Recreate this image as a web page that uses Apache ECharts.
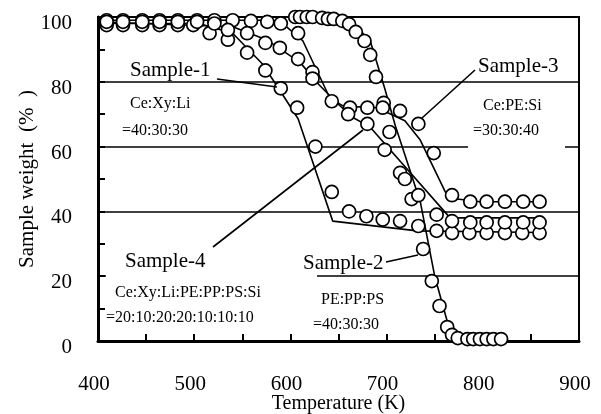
<!DOCTYPE html>
<html>
<head>
<meta charset="utf-8">
<script src="https://cdn.jsdelivr.net/npm/echarts@6/dist/echarts.min.js"></script>
<style>
  html, body { margin: 0; padding: 0; background: #fff; }
  #chart { width: 601px; height: 414px; }
</style>
</head>
<body>
<div id="chart"></div>
<script>
// measured points (temperature K, weight %)
const s1Temp = [409, 426, 446, 464, 483, 499, 516, 535, 555, 574, 590, 607, 626, 643, 661, 679, 696, 714, 733, 752, 768, 786, 804, 823, 841, 859];
const s1Weight = [97.5, 97.5, 97.5, 97.5, 97.5, 97.5, 95, 93, 89, 83.5, 78, 72, 60, 46, 40, 38.5, 37.5, 37, 35.5, 34, 33.3, 33.3, 33.3, 33.3, 33.3, 33.3];

const s2Temp = [605, 610, 617, 623, 633, 639, 645, 654, 661, 668, 677, 683, 689, 697, 703, 714, 726, 738, 747, 755, 763, 768, 774, 784, 790, 797, 804, 811, 819];
const s2Weight = [100, 100, 100, 100, 99.7, 99.4, 99.4, 98.8, 97.8, 95.4, 92.6, 88.3, 81.5, 73.5, 64.5, 51.9, 43.8, 28.4, 18.5, 10.8, 4.3, 1.9, 0.9, 0.6, 0.6, 0.6, 0.6, 0.6, 0.6];

const s3Temp = [409, 426, 446, 464, 483, 503, 521, 540, 559, 576, 590, 608, 623, 643, 662, 680, 696, 714, 733, 749, 768, 787, 804, 823, 842, 859];
const s3Weight = [99, 99, 99, 99, 99, 99, 99, 99, 98.8, 98.5, 98, 95, 83, 74, 72, 72, 72, 71, 67, 58, 45, 43, 43, 43, 43, 43];

const s4Temp = [409, 426, 446, 464, 483, 503, 521, 535, 555, 574, 589, 608, 623, 660, 680, 698, 719, 733, 752, 768, 787, 804, 823, 842, 859];
const s4Weight = [98.5, 98.5, 98.5, 98.5, 98.5, 98.5, 98, 96, 95, 92, 90.5, 87, 81, 70, 67, 59, 50, 45, 39, 37, 36.6, 36.6, 36.6, 36.6, 36.6];

// fitted curves
const s1FitT = [400, 505, 540, 571, 592, 608, 644, 732, 860];
const s1FitW = [98, 98, 95, 85.5, 76, 68.6, 37, 34, 33.5];
const s2FitT = [400, 640, 655, 672, 683, 698, 709, 735, 750, 764, 776, 825];
const s2FitW = [100, 100, 99, 96, 92.6, 78, 66.5, 43, 20, 5, 0.3, 0.3];
const s3FitT = [400, 570, 590, 613, 641, 655, 690, 719, 735, 761, 769, 797, 860];
const s3FitW = [99, 99, 98.5, 92.6, 75, 72.5, 72, 68, 62, 46, 44, 43, 43];
const s4FitT = [400, 540, 575, 610, 630, 650, 665, 683, 766, 860];
const s4FitW = [98.5, 97, 93, 86, 79, 73, 69, 66, 38, 38];

const FONT = "'Liberation Serif', 'Times New Roman', serif";

function pairs(xs, ys) {
  return xs.map((x, i) => [x, ys[i]]);
}

function fitLine(xs, ys) {
  return {
    type: 'line', data: pairs(xs, ys), showSymbol: false, smooth: false,
    lineStyle: { color: '#000', width: 1.6 }, z: 2, clip: false, silent: true
  };
}
function dots(xs, ys) {
  return {
    type: 'scatter', data: pairs(xs, ys), symbol: 'circle', symbolSize: 13,
    itemStyle: { color: '#fff', borderColor: '#000', borderWidth: 1.7, opacity: 1 },
    z: 3, clip: false, silent: true
  };
}

function label(text, x, y, size) {
  return {
    type: 'text', x: x, y: y, z: 10,
    style: { text: text, font: size + 'px ' + FONT, fill: '#000', textAlign: 'left', textVerticalAlign: 'middle' }
  };
}
function pointer(x1, y1, x2, y2) {
  return {
    type: 'line', z: 10,
    shape: { x1: x1, y1: y1, x2: x2, y2: y2 },
    style: { stroke: '#000', lineWidth: 1.6 }
  };
}

let myChart = echarts.init(document.getElementById('chart'));
let option = {
  animation: false,
  backgroundColor: '#fff',
  grid: {
    left: 98, right: 22, top: 17, bottom: 73, outerBoundsMode: 'none',
    show: true, borderColor: '#000', borderWidth: 2
  },
  xAxis: {
    type: 'value', min: 400, max: 900, interval: 50,
    name: 'Temperature (K)', nameLocation: 'middle', nameGap: 53, nameMoveOverlap: false,
    nameTextStyle: { fontFamily: FONT, fontSize: 20, color: '#000' },
    axisLine: { lineStyle: { color: '#000', width: 3 } },
    axisTick: { inside: true, length: 7, lineStyle: { color: '#000', width: 2 } },
    axisLabel: {
      fontFamily: FONT, fontSize: 21, color: '#000', margin: 33, padding: [0, 8, 0, 0],
      formatter: v => (v % 100 === 0 ? String(v) : '')
    },
    splitLine: { show: false }
  },
  yAxis: {
    type: 'value', min: 0, max: 100, interval: 20,
    name: 'Sample weight  (%  )', nameLocation: 'middle', nameGap: 60, nameMoveOverlap: false,
    nameTextStyle: { fontFamily: FONT, fontSize: 21, color: '#000' },
    axisLine: { lineStyle: { color: '#000', width: 3 } },
    axisTick: { inside: true, length: 7, lineStyle: { color: '#000', width: 2 } },
    minorTick: { show: true, splitNumber: 2, length: 7, lineStyle: { color: '#000', width: 2 } },
    axisLabel: {
      fontFamily: FONT, fontSize: 21, color: '#000', margin: 26,
      verticalAlign: 'top', lineHeight: 13
    },
    splitLine: { show: true, lineStyle: { color: '#000', width: 1.5 } }
  },
  graphic: [
    // gaps in grid lines behind labels
    { type: 'rect', z: 1, shape: { x: 106, y: 273, width: 211, height: 6 }, style: { fill: '#fff' } },
    { type: 'rect', z: 1, shape: { x: 468, y: 144, width: 97, height: 6 }, style: { fill: '#fff' } },
    label('Sample-1', 130, 70, 21),
    label('Ce:Xy:Li', 130, 104, 16),
    label('=40:30:30', 122, 131, 16),
    pointer(217, 79, 277, 87),
    label('Sample-3', 478, 66, 21),
    label('Ce:PE:Si', 483, 106, 16),
    label('=30:30:40', 473, 131, 16),
    pointer(475, 70, 422, 118),
    label('Sample-4', 125, 261, 21),
    label('Ce:Xy:Li:PE:PP:PS:Si', 115, 293, 16),
    label('=20:10:20:20:10:10:10', 106, 318, 16),
    pointer(213, 247, 363, 130),
    label('Sample-2', 303, 263, 21),
    label('PE:PP:PS', 321, 300, 16),
    label('=40:30:30', 313, 325, 16),
    pointer(386, 262, 418, 255)
  ],
  series: [
    fitLine(s1FitT, s1FitW),
    fitLine(s2FitT, s2FitW),
    fitLine(s3FitT, s3FitW),
    fitLine(s4FitT, s4FitW),
    dots(s1Temp, s1Weight),
    dots(s2Temp, s2Weight),
    dots(s3Temp, s3Weight),
    dots(s4Temp, s4Weight)
  ]
};
myChart.setOption(option);
</script>
</body>
</html>
